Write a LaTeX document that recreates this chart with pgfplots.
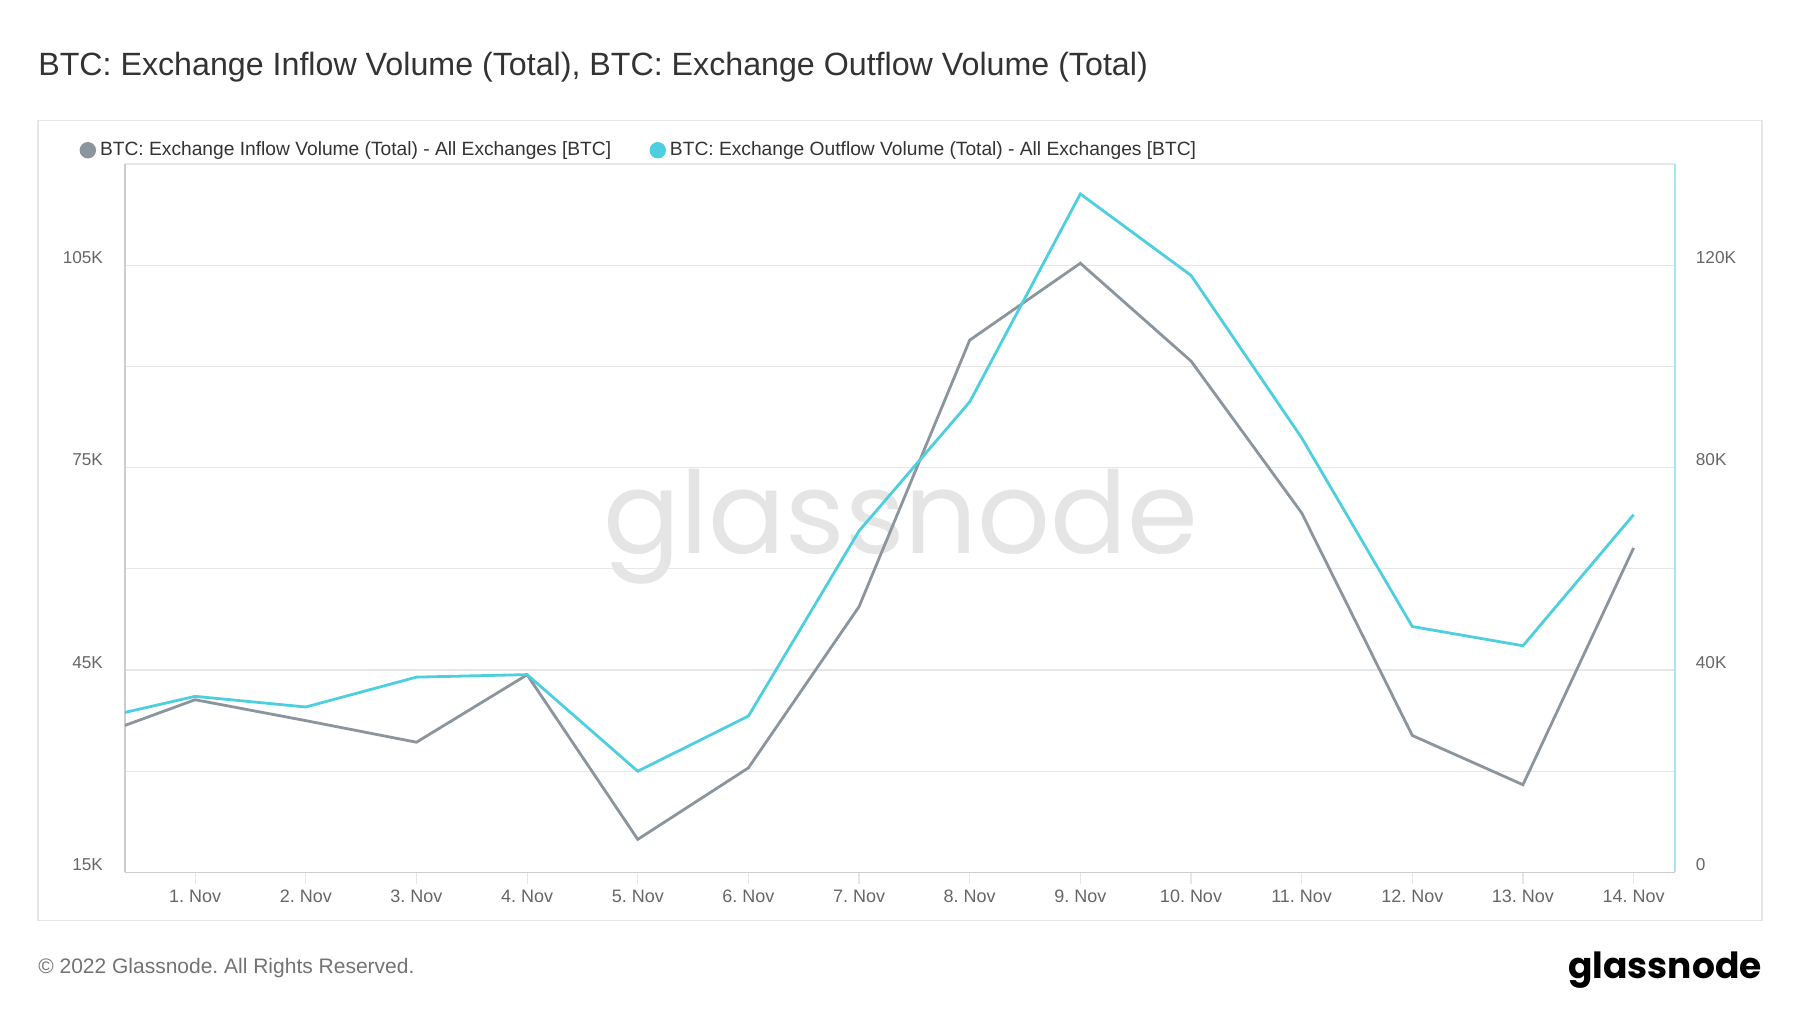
\documentclass[border=0pt]{standalone}
\usepackage{pgfplots}
\pgfplotsset{compat=1.18}
\usepackage{fontspec}
\setmainfont{Liberation Sans}
\newfontfamily\logofont{Poppins}
\frenchspacing
\definecolor{inflow}{HTML}{8A959D}
\definecolor{outflow}{HTML}{4ECFE0}
\definecolor{gridc}{HTML}{E6E6E6}
\definecolor{axisc}{HTML}{CCCCCC}
\definecolor{raxis}{HTML}{A6E8F1}
\definecolor{tickc}{HTML}{666666}
\definecolor{titlec}{HTML}{333333}

\pgfplotstableread{
x in
0 34.6
1 40.6
2 37.5
3 34.3
4 44.3
5 19.9
6 30.5
7 54.4
8 93.9
9 105.3
10 90.8
11 68.3
12 35.3
13 28.0
14 63.1
}\inflowdata
\pgfplotstableread{
x out
0 29.8
1 34.8
2 32.7
3 38.6
4 39.1
5 20.0
6 30.9
7 67.5
8 93.0
9 134.1
10 118.0
11 85.9
12 48.6
13 44.8
14 70.7
}\outflowdata

\begin{document}
\begin{tikzpicture}
\begin{scope}[x=0.574pt,y=0.574pt]
\path[use as bounding box, fill=white] (0,0) rectangle (1568,882);
\node[anchor=base west, inner sep=0pt, text=titlec, font=\fontsize{16.1pt}{18pt}\selectfont] at (33,816) {BTC: Exchange Inflow Volume (Total), BTC: Exchange Outflow Volume (Total)};
\draw[gridc, line width=0.8pt] (33,80) rectangle (1535,777);
\node[anchor=base, inner sep=0pt, text=black!10, font=\logofont\fontsize{57pt}{60pt}\selectfont] at (785,400) {glassnode};
\end{scope}

\begin{axis}[
  at={(62.57pt,70.03pt)}, anchor=south west,
  scale only axis, width=774.9pt, height=354.2pt,
  xmin=0.367, xmax=14.373,
  ymin=15, ymax=120,
  axis x line*=bottom, axis y line*=left,
  axis line style={draw=axisc, line width=0.7pt},
  xtick={1,...,14},
  xticklabels={1. Nov,2. Nov,3. Nov,4. Nov,5. Nov,6. Nov,7. Nov,8. Nov,9. Nov,10. Nov,11. Nov,12. Nov,13. Nov,14. Nov},
  xtick style={draw=gridc, line width=0.6pt},
  tick align=outside, major tick length=5.7pt,
  xticklabel style={font=\fontsize{9pt}{10pt}\selectfont, text=tickc, anchor=base, inner sep=0pt, yshift=-9.4pt},
  ytick={15,30,...,120},
  yticklabels={15K,,45K,,75K,,105K,},
  ytick style={draw=none},
  yticklabel style={font=\fontsize{8.6pt}{10pt}\selectfont, text=tickc, anchor=east, inner sep=0pt, xshift=-5.2pt, yshift=3.8pt},
  ymajorgrids, grid style={gridc, line width=0.6pt},
  legend style={at={(-0.0296,1.0195)}, anchor=west, draw=none, fill=none,
    inner sep=0pt, font=\fontsize{9.6pt}{11pt}\selectfont, text=titlec,
    /tikz/every even column/.append style={column sep=17.2pt}},
  legend cell align=left,
  legend columns=2,
  legend image code/.code={\fill[#1] (0pt,0pt) circle (3.4pt);},
]
\addplot[color=inflow, line width=1.4pt, mark=none] table[x=x, y=in] {\inflowdata};
\addlegendentry{BTC: Exchange Inflow Volume (Total) - All Exchanges [BTC]}
\addlegendimage{color=outflow, line width=1.4pt}
\addlegendentry{BTC: Exchange Outflow Volume (Total) - All Exchanges [BTC]}
\end{axis}

\begin{axis}[
  at={(62.57pt,70.03pt)}, anchor=south west,
  scale only axis, width=774.9pt, height=354.2pt,
  xmin=0.367, xmax=14.373,
  ymin=0, ymax=140,
  axis x line=none, axis y line*=right,
  axis line style={draw=raxis, line width=0.7pt},
  ytick={0,40,80,120},
  yticklabels={0,40K,80K,120K},
  ytick style={draw=none},
  yticklabel style={font=\fontsize{8.6pt}{10pt}\selectfont, text=tickc, anchor=west, inner sep=0pt, xshift=10.3pt, yshift=3.8pt},
]
\addplot[color=outflow, line width=1.4pt, mark=none] table[x=x, y=out] {\outflowdata};
\end{axis}

\begin{scope}[x=0.574pt,y=0.574pt]
\node[anchor=west, inner sep=0pt, text=black!55, font=\fontsize{10.5pt}{12pt}\selectfont] at (33,39) {© 2022 Glassnode. All Rights Reserved.};
\node[anchor=base east, inner sep=0pt, text=black, font=\logofont\bfseries\fontsize{18pt}{20pt}\selectfont] at (1535,30) {glassnode};
\end{scope}
\end{tikzpicture}
\end{document}
